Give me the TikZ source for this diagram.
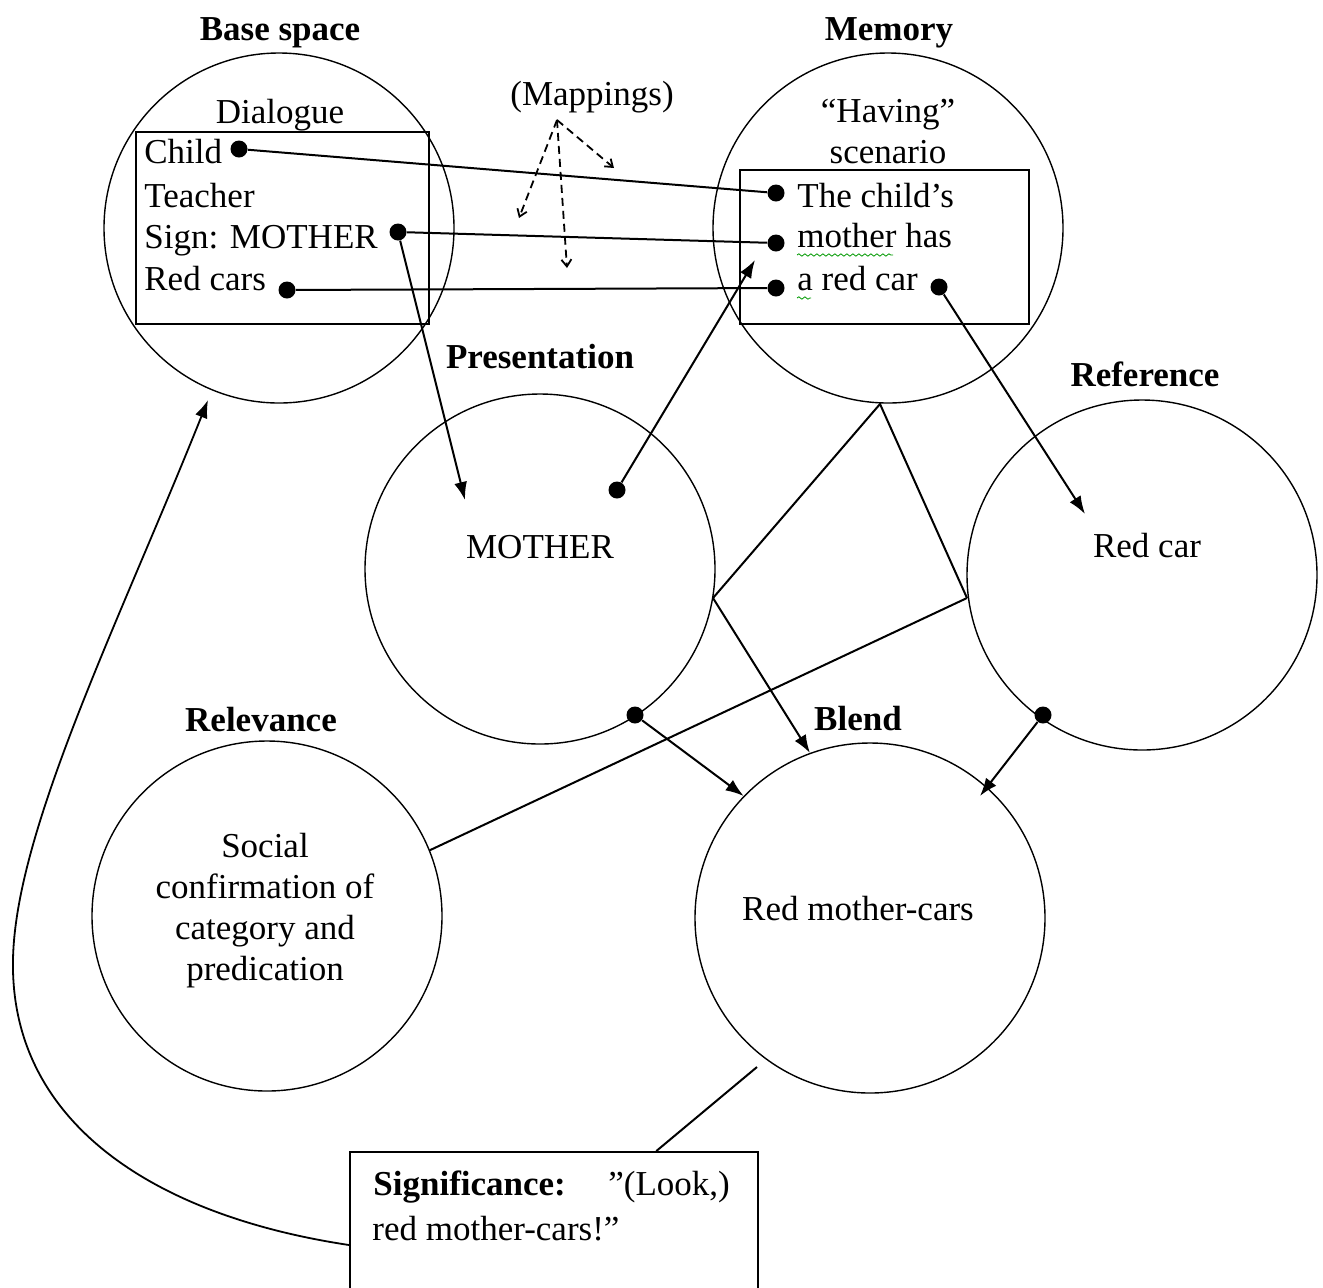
\documentclass[tikz,border=0pt]{standalone}
\usepackage{fontspec}
\setmainfont{Liberation Serif}
\usetikzlibrary{arrows.meta,decorations.pathmorphing,calc}
\begin{document}
\begin{tikzpicture}[x=0.5pt,y=-0.5pt,
  every node/.style={font=\fontsize{17.5}{21}\selectfont, inner sep=0pt},
  space/.style={draw, circle, minimum size=175pt, line width=0.7pt},
  frame/.style={draw, rectangle, line width=0.9pt, anchor=north west},
  title/.style={font=\fontsize{17.5}{21}\selectfont\bfseries, anchor=base},
  centred/.style={anchor=base},
  item/.style={anchor=base west},
  dot/.style={circle, fill=black, minimum size=8.5pt},
  link/.style={line width=1pt},
  arr/.style={line width=1pt, -{Latex[length=9pt,width=6.5pt]}},
  map/.style={line width=0.9pt, dash pattern=on 4pt off 2.5pt,
              -{Straight Barb[length=3.5pt,width=5pt]}},
  spell/.style={draw=green!60!black, line width=0.4pt, decorate,
                decoration={snake, amplitude=0.6pt, segment length=3pt}}
]
\useasboundingbox (0,0) rectangle (1323,1287);
\clip (0,0) rectangle (1323,1287);

% mental spaces
\node[space] (base) at (279,228) {};
\node[space] (mem)  at (888,228) {};
\node[space] (pres) at (540,569) {};
\node[space] (ref)  at (1142,575) {};
\node[space] (rel)  at (267,916) {};
\node[space] (blend) at (870,918) {};

% space titles
\node[title] (tbase)  at (280,40)  {Base space};
\node[title] (tmem)   at (889,40)  {Memory};
\node[title] (tpres)  at (540,368) {Presentation};
\node[title] (tref)   at (1145,386) {Reference};
\node[title] (trel)   at (261,731) {Relevance};
\node[title] (tblend) at (858,730) {Blend};

% base space contents
\node[frame, minimum width=146.5pt, minimum height=96pt] (dlgbox) at (135,131) {};
\node[centred] (dlg) at (280,123) {Dialogue};
\node[item] (child)   at (144,163) {Child};
\node[item] (teacher) at (144,207) {Teacher};
\node[item] (sign)    at (144,248) {Sign: MOTHER};
\node[item] (cars)    at (144,290) {Red cars};
\node[dot] (dchild) at (239,149) {};
\node[dot] (dsign)  at (398,232) {};
\node[dot] (dcars)  at (287,290) {};

% memory contents
\node[frame, minimum width=144.5pt, minimum height=77pt] (havbox) at (739,169) {};
\node[centred] (hav)  at (888,122) {``Having''};
\node[centred] (scen) at (888,163) {scenario};
\node[item] (m1) at (797,207) {The child’s};
\node[item] (m2) at (797,247) {mother has};
\node[item] (m3) at (797,290) {a red car};
\draw[spell] (797,255) -- (893,255);
\draw[spell] (797,298) -- (811,298);
\node[dot] (dm1) at (776,193) {};
\node[dot] (dm2) at (776,243) {};
\node[dot] (dm3) at (776,288) {};
\node[dot] (dm4) at (939,287) {};

% mappings label
\node[centred] (maps) at (592,105) {(Mappings)};
\coordinate (apex) at (557,120);
\coordinate (mapa) at (519,218);
\coordinate (mapb) at (567,268);
\coordinate (mapc) at (614,168);
\draw[map] (apex) -- (mapa);
\draw[map] (apex) -- (mapb);
\draw[map] (apex) -- (mapc);

% other space contents
\node[centred] (tmother) at (540,558) {MOTHER};
\node[centred] (tredcar) at (1147,557) {Red car};
\node[centred] (tblendx) at (858,920) {Red mother-cars};
\node[centred] (r1) at (265,857) {Social};
\node[centred] (r2) at (265,898) {confirmation of};
\node[centred] (r3) at (265,939) {category and};
\node[centred] (r4) at (265,980) {predication};
\node[dot] (dpres1) at (617,490) {};
\node[dot] (dpres2) at (635,715) {};
\node[dot] (dref)   at (1043,715) {};

% significance box
\node[frame, minimum width=204pt, minimum height=100pt] (sigbox) at (349,1151) {};
\node[item] (sig1) at (373,1195) {\textbf{Significance:}};
\node[item] (sig2) at (608,1195) {”(Look,)};
\node[item] (sig3) at (372,1240) {red mother-cars!”};

% cross-space links
\draw[link] (dchild) -- (dm1);
\draw[link] (dsign) -- (dm2);
\draw[link] (dcars) -- (dm3);

\coordinate (ptip) at (465,500);
\draw[arr] (dsign) -- (ptip);
\coordinate (mtip) at (755,260);
\draw[arr] (dpres1) -- (mtip);
\coordinate (rtip) at (1085,514);
\draw[arr] (dm4) -- (rtip);

\coordinate (mv) at (880,404);
\coordinate (pv) at (713,598);
\coordinate (rv) at (967,598);
\draw[link] (pv) -- (mv) -- (rv);
\draw[link] (rv) -- (rel.22);
\draw[arr] (pv) -- (blend.110);
\draw[arr] (dpres2) -- (blend.136);
\coordinate (btip) at (980,796);
\draw[arr] (dref) -- (btip);

\coordinate (bq) at (757,1067);
\draw[link] (bq) -- ($(sigbox.north west)!0.75!(sigbox.north east)$);

\coordinate (sq) at ($(sigbox.north west)+(0,94)$);
\coordinate (btarget) at (208,400);
\draw[arr, line width=0.9pt] (sq) .. controls (150,1215) and (10,1120) .. (13,960)
   .. controls (15,830) and (120,620) .. (btarget);
\end{tikzpicture}
\end{document}
